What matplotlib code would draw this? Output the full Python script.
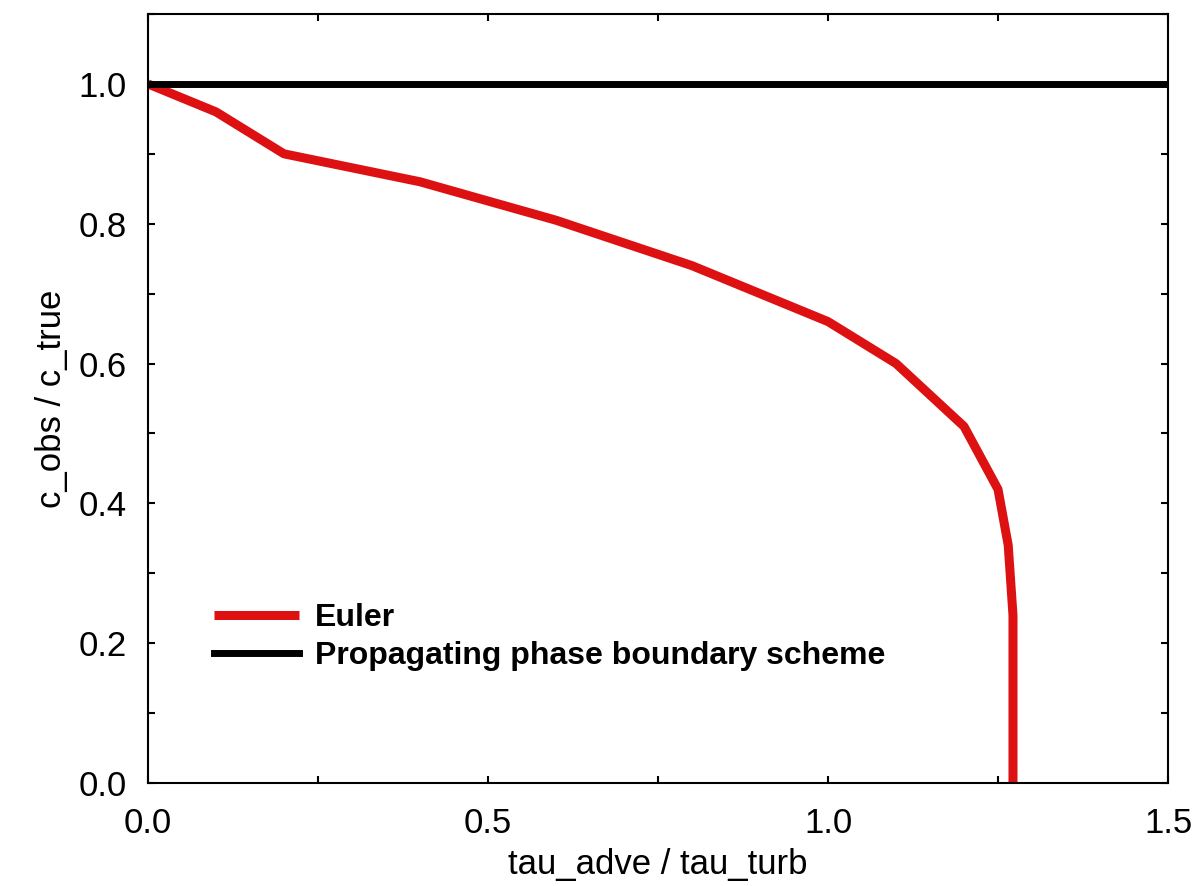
import numpy as np
import matplotlib
matplotlib.use('Agg')
import matplotlib.pyplot as plt
from matplotlib.ticker import MultipleLocator

plt.rcParams['font.family'] = ['Liberation Sans', 'DejaVu Sans']

# data
euler_x = [0.0, 0.1, 0.2, 0.4, 0.6, 0.8, 1.0, 1.1, 1.2, 1.25, 1.265, 1.272, 1.272]
euler_y = [1.0, 0.96, 0.90, 0.86, 0.805, 0.74, 0.66, 0.60, 0.51, 0.42, 0.34, 0.24, 0.0]
ppb_x = [0.0, 1.5]
ppb_y = [1.0, 1.0]

fig = plt.figure(figsize=(11.97, 8.86), dpi=100)
ax = fig.add_axes([0.1236, 0.1163, 0.8522, 0.8679])

ax.plot(euler_x, euler_y, color='#dd1111', lw=6.5, label='Euler', solid_capstyle='butt')
ax.plot(ppb_x, ppb_y, color='black', lw=5, label='Propagating phase boundary scheme')

ax.set_xlim(0, 1.5)
ax.set_ylim(0, 1.1)
ax.xaxis.set_major_locator(MultipleLocator(0.5))
ax.xaxis.set_minor_locator(MultipleLocator(0.25))
ax.yaxis.set_major_locator(MultipleLocator(0.2))
ax.yaxis.set_minor_locator(MultipleLocator(0.1))
ax.xaxis.set_major_formatter(plt.FormatStrFormatter('%.1f'))
ax.yaxis.set_major_formatter(plt.FormatStrFormatter('%.1f'))
ax.tick_params(which='both', direction='in', top=True, right=True,
               length=5, width=1.5, labelsize=25)
ax.tick_params(axis='x', pad=17)
ax.tick_params(axis='y', pad=15)
for s in ax.spines.values():
    s.set_linewidth(1.5)

ax.set_xlabel('tau_adve / tau_turb', fontsize=25, labelpad=6)
ax.set_ylabel('c_obs / c_true', fontsize=25, labelpad=8)

leg = ax.legend(loc='lower left', bbox_to_anchor=(0.037, 0.108), frameon=False,
                prop={'weight': 'bold', 'size': 23}, handlelength=2.65,
                handletextpad=0.5, labelspacing=0.25)

fig.savefig('out.png', dpi=100)
